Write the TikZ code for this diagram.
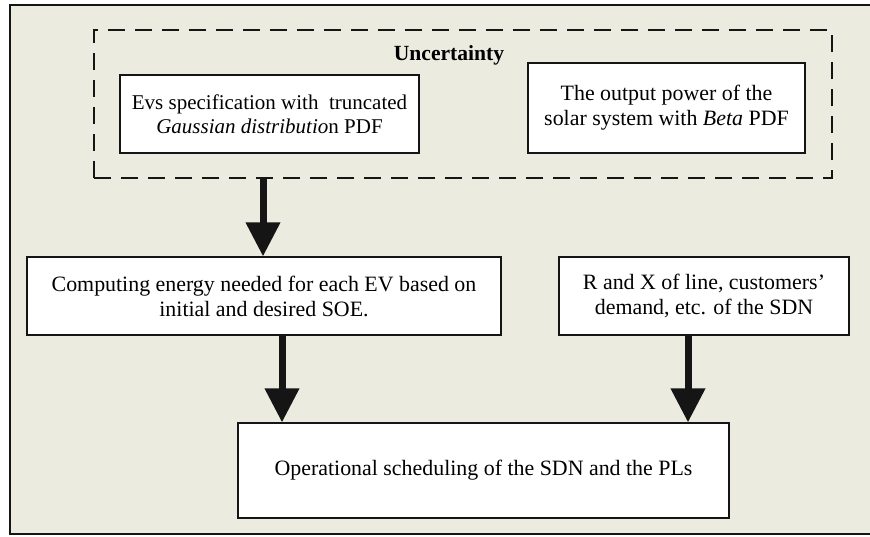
\documentclass[tikz,border=0pt]{standalone}
\usepackage{fontspec}
\setmainfont{Liberation Serif}
\usetikzlibrary{arrows.meta}
\definecolor{bgc}{HTML}{EBEBE0}
\definecolor{ink}{HTML}{151515}
\tikzset{
  box/.style={draw=ink, line width=1.2pt, fill=white, align=center, inner sep=0pt,
    font=\fontsize{21.9}{25}\selectfont},
  bigarrow/.style={draw=ink, line width=7pt, -{Triangle[width=33pt,length=34pt]}, fill=ink},
}
\begin{document}
\begin{tikzpicture}[x=1pt,y=-1pt]
\useasboundingbox (0,0) rectangle (870,536);
% outer frame (right side open beyond the picture)
\fill[bgc] (10,5) rectangle (875,534);
\draw[ink, line width=1.5pt] (875,5) -- (10,5) -- (10,534) -- (875,534);
% dashed uncertainty box
\node[draw=ink, dash pattern=on 17pt off 10pt, line width=1.3pt, minimum width=738pt, minimum height=148pt, inner sep=0pt]
  (unc) at (463,104) {};
\node[font=\fontsize{21.6}{25}\selectfont\bfseries, anchor=base] (unct) at (449,60) {Uncertainty};
\node[box, font=\fontsize{21}{24.5}\selectfont, minimum width=299pt, minimum height=78pt] (evs) at (269.5,114)
  {Evs specification with \ truncated\\\textit{Gaussian distributio}n PDF};
\node[box, minimum width=277pt, minimum height=90pt] (sol) at (666.5,108)
  {The output power of the\\solar system with \textit{Beta} PDF};
\node[box, minimum width=474pt, minimum height=78pt] (comp) at (264,296)
  {Computing energy needed for each EV based on\\initial and desired SOE.};
\node[box, minimum width=290pt, minimum height=78pt] (rx) at (704,296)
  {R and X of line, customers'\\demand, etc. of the SDN};
\node[box, minimum width=491pt, minimum height=95pt] (op) at (483.5,470.5)
  {Operational scheduling of the SDN and the PLs};
% arrows
\coordinate (a1s) at (263,178);
\draw[bigarrow] (a1s) -- (a1s |- comp.north);
\coordinate (a2s) at (282,335);
\draw[bigarrow] (a2s) -- (a2s |- op.north);
\coordinate (a3s) at (688,335);
\draw[bigarrow] (a3s) -- (a3s |- op.north);
\end{tikzpicture}
\end{document}
